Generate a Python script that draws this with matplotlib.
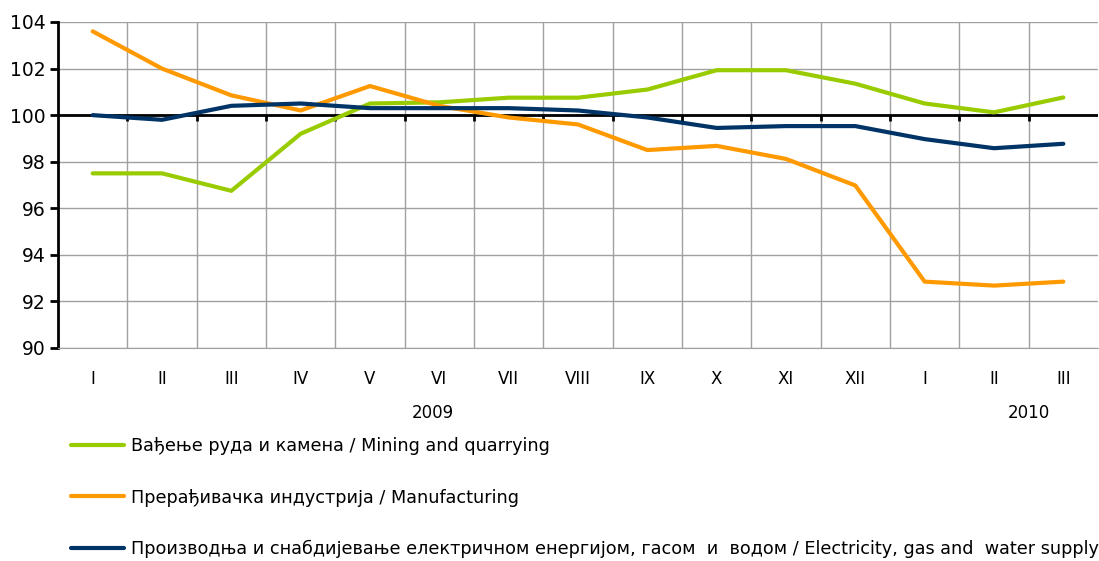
import matplotlib.pyplot as plt

months = ["I", "II", "III", "IV", "V", "VI", "VII", "VIII", "IX", "X",
          "XI", "XII", "I", "II", "III"]
mining = [97.5, 97.5, 96.75, 99.2, 100.5, 100.55, 100.75, 100.75, 101.1,
          101.93, 101.93, 101.35, 100.5, 100.12, 100.76]
manufacturing = [103.6, 102.0, 100.85, 100.2, 101.25, 100.4, 99.9, 99.6,
                 98.5, 98.68, 98.12, 96.98, 92.85, 92.68, 92.85]
electricity = [100.0, 99.8, 100.4, 100.5, 100.3, 100.3, 100.3, 100.2, 99.9,
               99.45, 99.53, 99.53, 98.97, 98.58, 98.77]
years = ["2009", "2010"]
year_pos = [4.9, 13.5]

labels = [
    "Вађење руда и камена / Mining and quarrying",
    "Прерађивачка индустрија / Manufacturing",
    "Производња и снабдијевање електричном енергијом, гасом  и  водом / Electricity, gas and  water supply",
]
colors = ["#99CC00", "#FF9900", "#003366"]

plt.rcParams["font.family"] = ["DejaVu Sans"]

fig = plt.figure(figsize=(10.99, 5.61), dpi=100)
ax = fig.add_axes([58 / 1099, 1 - 348 / 561, 1040 / 1099, 326 / 561])

x = list(range(len(months)))
for vals, c, lab in zip([mining, manufacturing, electricity], colors, labels):
    ax.plot(x, vals, color=c, lw=3, label=lab, solid_capstyle="round", zorder=3)

boundaries = [i + 0.5 for i in range(len(months) - 1)]

ax.set_xlim(-0.5, 14.5)
ax.set_ylim(90, 104)
ax.set_yticks(range(90, 105, 2))
ax.set_xticks(x)
ax.set_xticklabels(months)
ax.set_xticks(boundaries, minor=True)

ax.tick_params(axis="x", which="both", length=0, pad=16, labelsize=12)
ax.tick_params(axis="y", length=6, width=2, pad=3, labelsize=13.5, direction="out")
ax.grid(axis="y", color="#a0a0a0", lw=1)
ax.grid(axis="x", which="minor", color="#a0a0a0", lw=1)
ax.grid(axis="x", which="major", visible=False)
ax.set_axisbelow(True)

for s in ["top", "right"]:
    ax.spines[s].set_visible(False)
ax.spines["bottom"].set_color("#a0a0a0")
ax.spines["left"].set_linewidth(2)

# x axis line crossing at 100, with small ticks at category boundaries
ax.axhline(100, color="black", lw=2, zorder=2)
ax.vlines(boundaries, 99.75, 100, color="black", lw=2, zorder=2)

for yr, p in zip(years, year_pos):
    ax.text(p, -0.2, yr, transform=ax.get_xaxis_transform(), ha="center",
            va="center", fontsize=12)

fig.legend(loc="upper left", bbox_to_anchor=(64 / 1099, 1 - 430 / 561),
           frameon=False, fontsize=12.7, handlelength=3.0, handletextpad=0.4,
           labelspacing=1.9, borderaxespad=0)

fig.savefig("out.png", dpi=100)
